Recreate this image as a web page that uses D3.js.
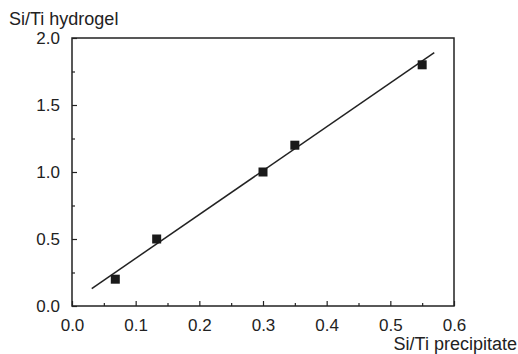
<!DOCTYPE html>
<html>
<head>
<meta charset="utf-8">
<script src="https://cdn.jsdelivr.net/npm/d3@7"></script>
<style>
  html, body { margin: 0; padding: 0; background: #fff; }
  svg { display: block; font-family: "Liberation Sans", Arial, sans-serif; }
</style>
</head>
<body>
<svg id="chart" width="518" height="354"></svg>
<script>
// Measured Si/Ti ratios: precipitate (x) vs hydrogel (y)
const siTiPrecipitate = [0.068, 0.133, 0.30, 0.35, 0.55];
const siTiHydrogel    = [0.20, 0.50, 1.00, 1.20, 1.80];

// Linear fit drawn across the data range
const fitX = [0.031, 0.569];
const fitY = [0.13, 1.89];

const xMajorTicks = [0, 0.1, 0.2, 0.3, 0.4, 0.5, 0.6];
const xMinorTicks = [0.05, 0.15, 0.25, 0.35, 0.45, 0.55];
const yMajorTicks = [0, 0.5, 1.0, 1.5, 2.0];
const yMinorTicks = [0.25, 0.75, 1.25, 1.75];

const xTitle = "Si/Ti precipitate";
const yTitle = "Si/Ti hydrogel";

const svg = d3.select("#chart");
const plot = { left: 72, right: 454, top: 38, bottom: 306 };
const ink = "#222";

const x = d3.scaleLinear().domain([0, 0.6]).range([plot.left, plot.right]);
const y = d3.scaleLinear().domain([0, 2.0]).range([plot.bottom, plot.top]);

// Frame
svg.append("rect")
  .attr("x", plot.left).attr("y", plot.top)
  .attr("width", plot.right - plot.left).attr("height", plot.bottom - plot.top)
  .attr("fill", "none").attr("stroke", ink).attr("stroke-width", 1.5);

// Bottom axis: inward ticks
svg.append("g").attr("transform", `translate(0,${plot.bottom})`)
  .call(d3.axisBottom(x).tickValues(xMajorTicks).tickSize(-5).tickPadding(13)
        .tickFormat(d3.format(".1f")));
svg.append("g").attr("transform", `translate(0,${plot.bottom})`)
  .call(d3.axisBottom(x).tickValues(xMinorTicks).tickSize(-3).tickFormat(""));

// Left axis: inward ticks
svg.append("g").attr("transform", `translate(${plot.left},0)`)
  .call(d3.axisLeft(y).tickValues(yMajorTicks).tickSize(-5).tickPadding(12)
        .tickFormat(d3.format(".1f")));
svg.append("g").attr("transform", `translate(${plot.left},0)`)
  .call(d3.axisLeft(y).tickValues(yMinorTicks).tickSize(-3).tickFormat(""));

svg.selectAll(".domain").remove();
svg.selectAll(".tick line").attr("stroke", ink).attr("stroke-width", 1.2);
svg.selectAll(".tick text")
  .attr("fill", ink).style("font-size", "17px")
  .style("font-family", "'Liberation Sans', Arial, sans-serif");

// Fit line
svg.append("line")
  .attr("x1", x(fitX[0])).attr("y1", y(fitY[0]))
  .attr("x2", x(fitX[1])).attr("y2", y(fitY[1]))
  .attr("stroke", ink).attr("stroke-width", 1.5);

// Data markers
const s = 9;
svg.selectAll("rect.pt")
  .data(d3.zip(siTiPrecipitate, siTiHydrogel))
  .enter().append("rect").attr("class", "pt")
  .attr("x", d => x(d[0]) - s / 2).attr("y", d => y(d[1]) - s / 2)
  .attr("width", s).attr("height", s)
  .attr("fill", "#1a1a1a");

// Axis titles
svg.append("text").attr("x", 9).attr("y", 25)
  .attr("fill", ink).style("font-size", "18px").text(yTitle);
svg.append("text").attr("x", 517).attr("y", 350)
  .attr("text-anchor", "end")
  .attr("fill", ink).style("font-size", "18px").text(xTitle);
</script>
</body>
</html>
